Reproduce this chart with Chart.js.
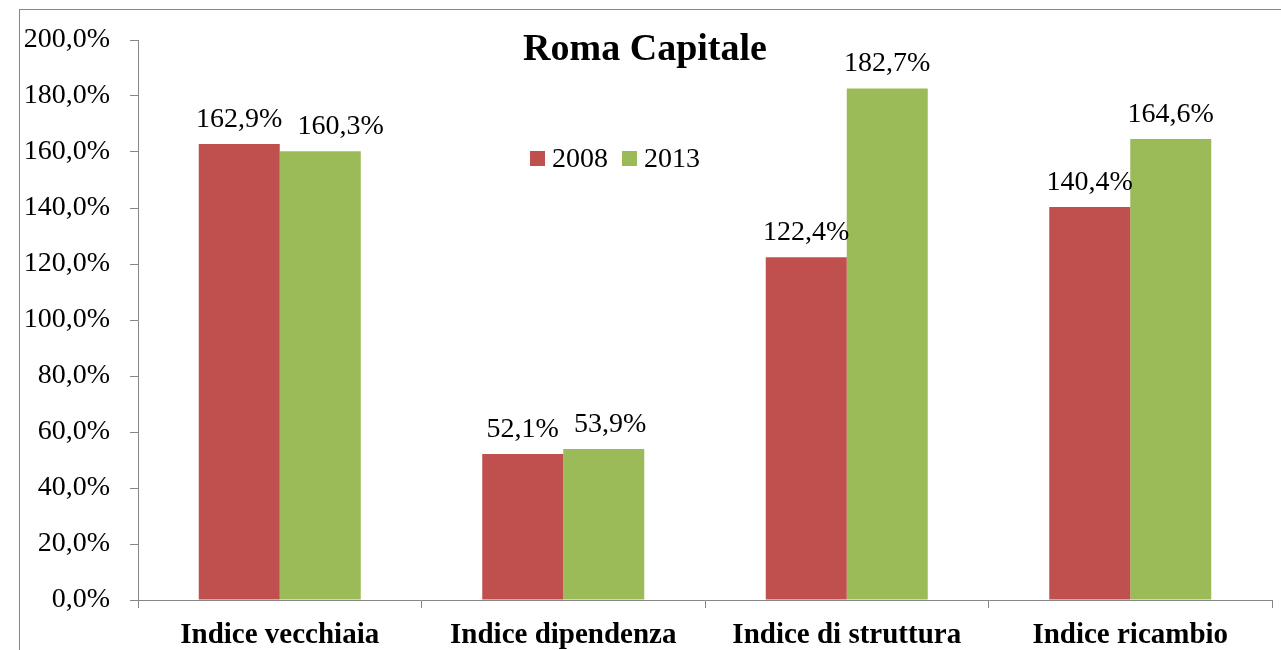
<!DOCTYPE html>
<html>
<head>
<meta charset="utf-8">
<script src="https://cdn.jsdelivr.net/npm/chart.js@4/dist/chart.umd.min.js"></script>
<style>
html,body{margin:0;padding:0;background:#fff;}
canvas{display:block;}
</style>
</head>
<body>
<canvas id="c" width="1281" height="650"></canvas>
<script>
const chartTitle = 'Roma Capitale';
const categories = ['Indice vecchiaia', 'Indice dipendenza', 'Indice di struttura', 'Indice ricambio'];
const seriesNames = ['2008', '2013'];
const values2008 = [162.9, 52.1, 122.4, 140.4];
const values2013 = [160.3, 53.9, 182.7, 164.6];
const yTicks = [0, 20, 40, 60, 80, 100, 120, 140, 160, 180, 200];
const colors = ['#C0504D', '#9BBB59'];

const FONT = "'Liberation Serif', 'Times New Roman', serif";
const fmt = v => v.toFixed(1).replace('.', ',') + '%';

const decorPlugin = {
  id: 'decor',
  beforeDraw(chart) {
    const ctx = chart.ctx;
    ctx.save();
    ctx.fillStyle = '#fff';
    ctx.fillRect(0, 0, chart.width, chart.height);
    ctx.strokeStyle = '#868686';
    ctx.lineWidth = 1;
    ctx.strokeRect(19.5, 9.5, 1400, 800);
    ctx.restore();
  },
  afterDatasetsDraw(chart) {
    const ctx = chart.ctx;
    ctx.save();
    // data labels
    ctx.font = '28px ' + FONT;
    ctx.fillStyle = '#000';
    ctx.textAlign = 'center';
    ctx.textBaseline = 'alphabetic';
    const n = chart.data.labels.length;
    for (let i = 0; i < n; i++) {
      let prev = null;
      chart.data.datasets.forEach((ds, di) => {
        const el = chart.getDatasetMeta(di).data[i];
        const txt = fmt(ds.data[i]);
        const w = ctx.measureText(txt).width;
        let cx = el.x;
        const y = el.y - 17;
        if (prev && Math.abs(prev.y - y) < 28 && cx - w / 2 < prev.right + 15) {
          cx = prev.right + 15 + w / 2;
        }
        ctx.fillText(txt, cx, y);
        prev = {right: cx + w / 2, y};
      });
    }
    // title
    ctx.font = 'bold 38px ' + FONT;
    ctx.fillText(chartTitle, 645, 60);
    // legend
    ctx.font = '28px ' + FONT;
    ctx.textAlign = 'left';
    let x = 530;
    chart.data.datasets.forEach((ds) => {
      ctx.fillStyle = ds.backgroundColor;
      ctx.fillRect(x, 151, 15, 15);
      ctx.fillStyle = '#000';
      ctx.fillText(ds.label, x + 22, 167);
      x += 22 + ctx.measureText(ds.label).width + 14;
    });
    ctx.restore();
  }
};

new Chart(document.getElementById('c'), {
  type: 'bar',
  data: {
    labels: categories,
    datasets: [
      {label: seriesNames[0], data: values2008, backgroundColor: colors[0]},
      {label: seriesNames[1], data: values2013, backgroundColor: colors[1]}
    ]
  },
  options: {
    responsive: false,
    devicePixelRatio: 1,
    animation: false,
    categoryPercentage: 4 / 7,
    barPercentage: 1,
    layout: {padding: {left: 0, top: 40, right: 9, bottom: 0}},
    plugins: {
      legend: {display: false},
      title: {display: false},
      tooltip: {enabled: false}
    },
    scales: {
      x: {
        grid: {display: true, drawOnChartArea: false, offset: true, tickLength: 8, color: '#868686'},
        border: {display: true, color: '#868686', width: 1},
        ticks: {
          color: '#000',
          font: {family: FONT, size: 29, weight: 'bold'},
          padding: 10,
          maxRotation: 0,
          autoSkip: false
        },
        afterFit(scale) { scale.height = 50; }
      },
      y: {
        min: 0,
        max: 200,
        afterBuildTicks(scale) { scale.ticks = yTicks.map(v => ({value: v})); },
        grid: {display: true, drawOnChartArea: false, tickLength: 8, color: '#868686'},
        border: {display: true, color: '#868686', width: 1},
        ticks: {
          color: '#000',
          font: {family: FONT, size: 28},
          padding: 20,
          callback: v => fmt(v)
        },
        afterFit(scale) { scale.width = 138; }
      }
    }
  },
  plugins: [decorPlugin]
});
</script>
</body>
</html>
